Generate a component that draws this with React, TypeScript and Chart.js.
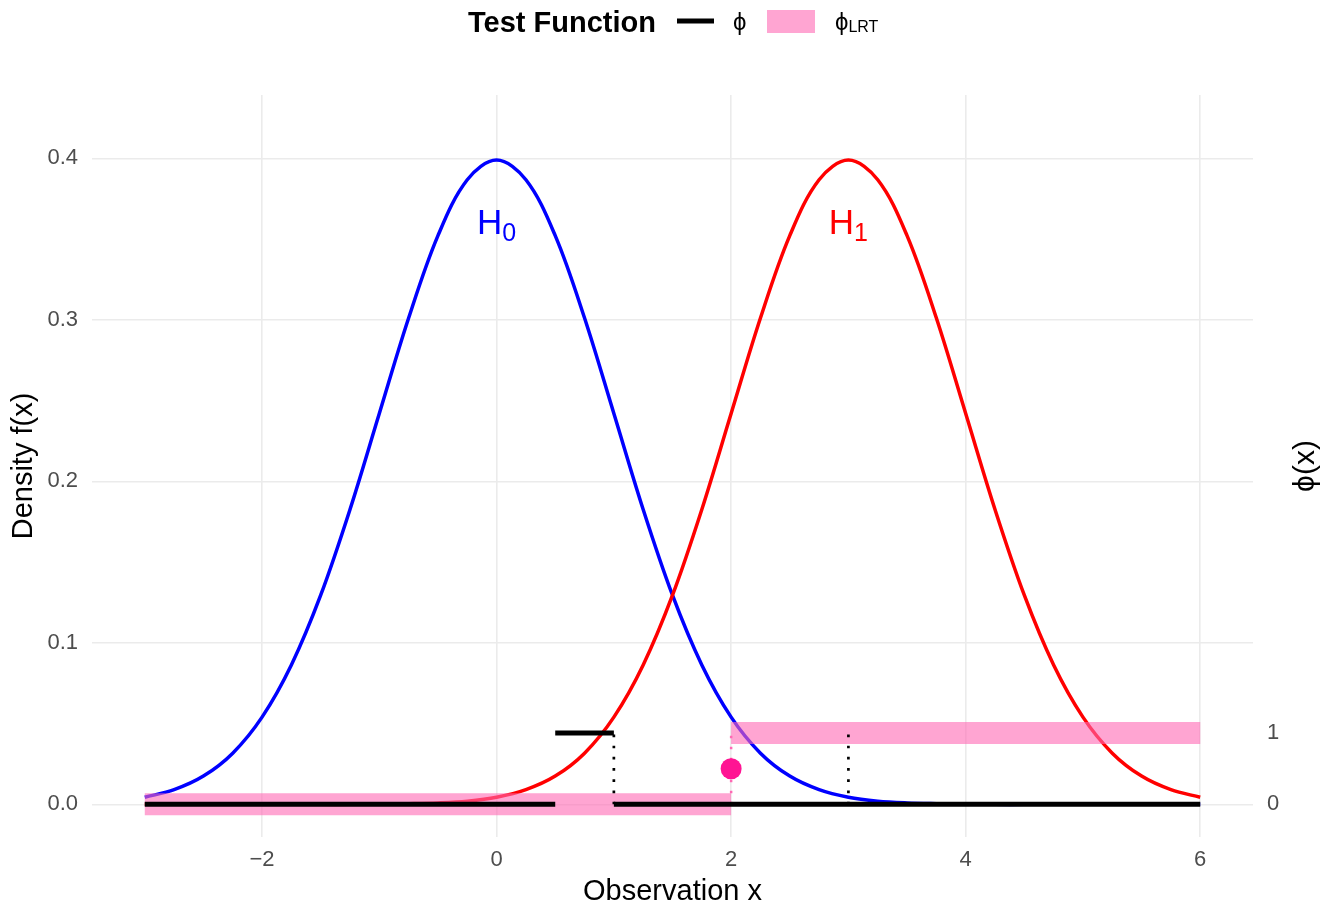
import React, { useEffect, useRef } from 'react';
import { Chart, registerables } from 'chart.js';

Chart.register(...registerables);

// ---------- data ----------
const X_VALUES = [-3, -2.75, -2.5, -2.25, -2, -1.75, -1.5, -1.25, -1, -0.75, -0.5, -0.25, 0, 0.25, 0.5, 0.75, 1, 1.25, 1.5, 1.75, 2, 2.25, 2.5, 2.75, 3, 3.25, 3.5, 3.75, 4, 4.25, 4.5, 4.75, 5, 5.25, 5.5, 5.75, 6];
const H0_DENSITY = [0.0044, 0.0091, 0.0175, 0.0317, 0.054, 0.0863, 0.1295, 0.1826, 0.242, 0.3011, 0.3521, 0.3867, 0.3989, 0.3867, 0.3521, 0.3011, 0.242, 0.1826, 0.1295, 0.0863, 0.054, 0.0317, 0.0175, 0.0091, 0.0044, 0.002, 0.0009, 0.0004, 0.0001, 0, 0, 0, 0, 0, 0, 0, 0];
const H1_DENSITY = [0, 0, 0, 0, 0, 0, 0, 0, 0.0001, 0.0004, 0.0009, 0.002, 0.0044, 0.0091, 0.0175, 0.0317, 0.054, 0.0863, 0.1295, 0.1826, 0.242, 0.3011, 0.3521, 0.3867, 0.3989, 0.3867, 0.3521, 0.3011, 0.242, 0.1826, 0.1295, 0.0863, 0.054, 0.0317, 0.0175, 0.0091, 0.0044];

// test function phi (piecewise segments)
const PHI_STARTS = [-3, 0.5, 1];
const PHI_ENDS = [0.5, 1, 6];
const PHI_LEVELS = [0, 1, 0];
const PHI_JUMPS_X = [1, 3];

// likelihood-ratio test function phi_LRT
const LRT_STARTS = [-3, 2];
const LRT_ENDS = [2, 6];
const LRT_LEVELS = [0, 1];
const LRT_BOUNDARY_X = 2;
const LRT_BOUNDARY_VALUE = 0.5;

// labels
const H_LABEL_X = [0, 3];
const H_LABEL_Y = 0.36;
const H_LABEL_SUBS = ['0', '1'];

// axes
const X_TICKS = [-2, 0, 2, 4, 6];
const Y_TICKS = [0, 0.1, 0.2, 0.3, 0.4];
const Y2_TICKS = [0, 1];
const X_MIN = -3.45;
const X_MAX = 6.45;
const Y_MIN = -0.0202;
const Y_MAX = 0.4392;
const PHI_TO_DENSITY = 0.04415;

const FONT = '"Liberation Sans", Arial, "DejaVu Sans", sans-serif';
const PHI_CHAR = '\u03D5';

function segmentPoints(starts: number[], ends: number[], levels: number[]) {
  const pts: { x: number; y: number | null }[] = [];
  starts.forEach((s, i) => {
    pts.push({ x: s, y: levels[i] });
    pts.push({ x: ends[i], y: levels[i] });
    if (i < starts.length - 1) pts.push({ x: ends[i], y: null });
  });
  return pts;
}

function verticalPoints(xs: number[], lo: number, hi: number) {
  const pts: { x: number; y: number | null }[] = [];
  xs.forEach((x, i) => {
    pts.push({ x, y: lo });
    pts.push({ x, y: hi });
    if (i < xs.length - 1) pts.push({ x, y: null });
  });
  return pts;
}

const overlayPlugin = {
  id: 'overlay',
  afterDraw(chart: any) {
    const { ctx, chartArea } = chart;
    const xs = chart.scales.x;
    const ys = chart.scales.y;
    ctx.save();

    // H labels
    const colors = ['#0000FF', '#FF0000'];
    H_LABEL_X.forEach((xv, i) => {
      const px = xs.getPixelForValue(xv);
      const baseY = ys.getPixelForValue(H_LABEL_Y) + 11;
      ctx.font = `35px ${FONT}`;
      const wH = ctx.measureText('H').width;
      ctx.font = `25px ${FONT}`;
      const wS = ctx.measureText(H_LABEL_SUBS[i]).width;
      const left = px - (wH + wS) / 2;
      ctx.fillStyle = colors[i];
      ctx.textAlign = 'left';
      ctx.textBaseline = 'alphabetic';
      ctx.font = `35px ${FONT}`;
      ctx.fillText('H', left, baseY);
      ctx.font = `25px ${FONT}`;
      ctx.fillText(H_LABEL_SUBS[i], left + wH, baseY + 7);
    });

    // legend
    ctx.fillStyle = '#000';
    ctx.textAlign = 'left';
    ctx.textBaseline = 'alphabetic';
    ctx.font = `bold 29px ${FONT}`;
    ctx.fillText('Test Function', 468, 32);
    ctx.fillRect(677, 18.5, 37, 5);
    ctx.font = `24px ${FONT}`;
    ctx.fillText(PHI_CHAR, 733, 30);
    ctx.fillStyle = 'rgba(255,105,180,0.6)';
    ctx.fillRect(767, 10, 48, 23);
    ctx.fillStyle = '#000';
    ctx.font = `24px ${FONT}`;
    ctx.fillText(PHI_CHAR, 835, 30);
    const wPhi = ctx.measureText(PHI_CHAR).width;
    ctx.font = `16px ${FONT}`;
    ctx.fillText('LRT', 835 + wPhi, 32);

    // right axis title
    ctx.translate(1306, (chartArea.top + chartArea.bottom) / 2);
    ctx.rotate(-Math.PI / 2);
    ctx.textAlign = 'center';
    ctx.textBaseline = 'middle';
    ctx.font = `30px ${FONT}`;
    ctx.fillText(PHI_CHAR + '(x)', 0, 0);
    ctx.restore();
  },
};

export default function App() {
  const ref = useRef<HTMLCanvasElement>(null);

  useEffect(() => {
    const canvas = ref.current;
    if (!canvas) return;
    const curve = {
      pointRadius: 0,
      borderWidth: 3.5,
      tension: 0.35,
      fill: false,
      yAxisID: 'y',
    };
    const chart = new Chart(canvas, {
      type: 'line',
      data: {
        datasets: [
          {
            ...curve,
            label: 'H0',
            data: X_VALUES.map((x, i) => ({ x, y: H0_DENSITY[i] })),
            borderColor: '#0000FF',
            order: 10,
          },
          {
            ...curve,
            label: 'H1',
            data: X_VALUES.map((x, i) => ({ x, y: H1_DENSITY[i] })),
            borderColor: '#FF0000',
            order: 9,
          },
          {
            label: 'phiLRT',
            data: segmentPoints(LRT_STARTS, LRT_ENDS, LRT_LEVELS),
            borderColor: 'rgba(255,105,180,0.6)',
            borderWidth: 22,
            borderCapStyle: 'butt',
            pointRadius: 0,
            spanGaps: false,
            yAxisID: 'y2',
            order: 5,
          },
          {
            label: 'LRT boundary',
            data: verticalPoints([LRT_BOUNDARY_X], 0, 1),
            borderColor: '#FF69B4',
            borderWidth: 2.5,
            borderDash: [2.5, 8.5],
            borderCapStyle: 'butt',
            pointRadius: 0,
            yAxisID: 'y2',
            order: 4,
          },
          {
            label: 'phi',
            data: segmentPoints(PHI_STARTS, PHI_ENDS, PHI_LEVELS),
            borderColor: '#000000',
            borderWidth: 5,
            borderCapStyle: 'butt',
            pointRadius: 0,
            spanGaps: false,
            yAxisID: 'y2',
            order: 3,
          },
          {
            label: 'phi jumps',
            data: verticalPoints(PHI_JUMPS_X, 0, 1),
            borderColor: '#000000',
            borderWidth: 2.7,
            borderDash: [2.7, 8.5],
            borderCapStyle: 'butt',
            pointRadius: 0,
            spanGaps: false,
            yAxisID: 'y2',
            order: 2,
          },
          {
            label: 'boundary point',
            data: [{ x: LRT_BOUNDARY_X, y: LRT_BOUNDARY_VALUE }],
            showLine: false,
            pointRadius: 10.5,
            pointBackgroundColor: '#FF1493',
            pointBorderWidth: 0,
            yAxisID: 'y2',
            order: 1,
          },
        ] as any,
      },
      options: {
        responsive: false,
        animation: false,
        devicePixelRatio: 1,
        layout: { padding: { top: 95, left: 0, right: 0, bottom: 0 } },
        plugins: {
          legend: { display: false },
          tooltip: { enabled: false },
        },
        scales: {
          x: {
            type: 'linear',
            min: X_MIN,
            max: X_MAX,
            afterBuildTicks: (s: any) => {
              s.ticks = X_TICKS.map((v) => ({ value: v }));
            },
            afterFit: (s: any) => {
              s.height = 74;
            },
            grid: { color: '#EBEBEB', lineWidth: 1.6, drawTicks: false },
            border: { display: false },
            ticks: {
              padding: 10,
              color: '#4D4D4D',
              font: { family: FONT, size: 22 },
              maxRotation: 0,
              callback: (v: any) => (v < 0 ? '\u2212' + Math.abs(v) : String(v)),
            },
            title: {
              display: true,
              text: 'Observation x',
              color: '#000',
              font: { family: FONT, size: 29 },
              padding: { top: 0, bottom: 2 },
            },
          },
          y: {
            type: 'linear',
            position: 'left',
            min: Y_MIN,
            max: Y_MAX,
            afterBuildTicks: (s: any) => {
              s.ticks = Y_TICKS.map((v) => ({ value: v }));
            },
            afterFit: (s: any) => {
              s.width = 92;
            },
            grid: { color: '#EBEBEB', lineWidth: 1.6, drawTicks: false },
            border: { display: false },
            ticks: {
              padding: 14,
              color: '#4D4D4D',
              font: { family: FONT, size: 22 },
              callback: (v: any) => Number(v).toFixed(1),
            },
            title: {
              display: true,
              text: 'Density f(x)',
              color: '#000',
              font: { family: FONT, size: 29 },
              padding: { top: 7, bottom: 0 },
            },
          },
          y2: {
            type: 'linear',
            position: 'right',
            min: Y_MIN / PHI_TO_DENSITY,
            max: Y_MAX / PHI_TO_DENSITY,
            afterBuildTicks: (s: any) => {
              s.ticks = Y2_TICKS.map((v) => ({ value: v }));
            },
            afterFit: (s: any) => {
              s.width = 86;
            },
            grid: { display: false, drawTicks: false },
            border: { display: false },
            ticks: {
              padding: 14,
              color: '#4D4D4D',
              font: { family: FONT, size: 22 },
              callback: (v: any) => String(v),
            },
          },
        },
      } as any,
      plugins: [overlayPlugin],
    });
    return () => chart.destroy();
  }, []);

  return (
    <div style={{ position: 'absolute', left: 0, top: 0, width: 1339, height: 911, background: '#ffffff' }}>
      <canvas ref={ref} width={1339} height={911} style={{ display: 'block', width: 1339, height: 911 }} />
    </div>
  );
}
